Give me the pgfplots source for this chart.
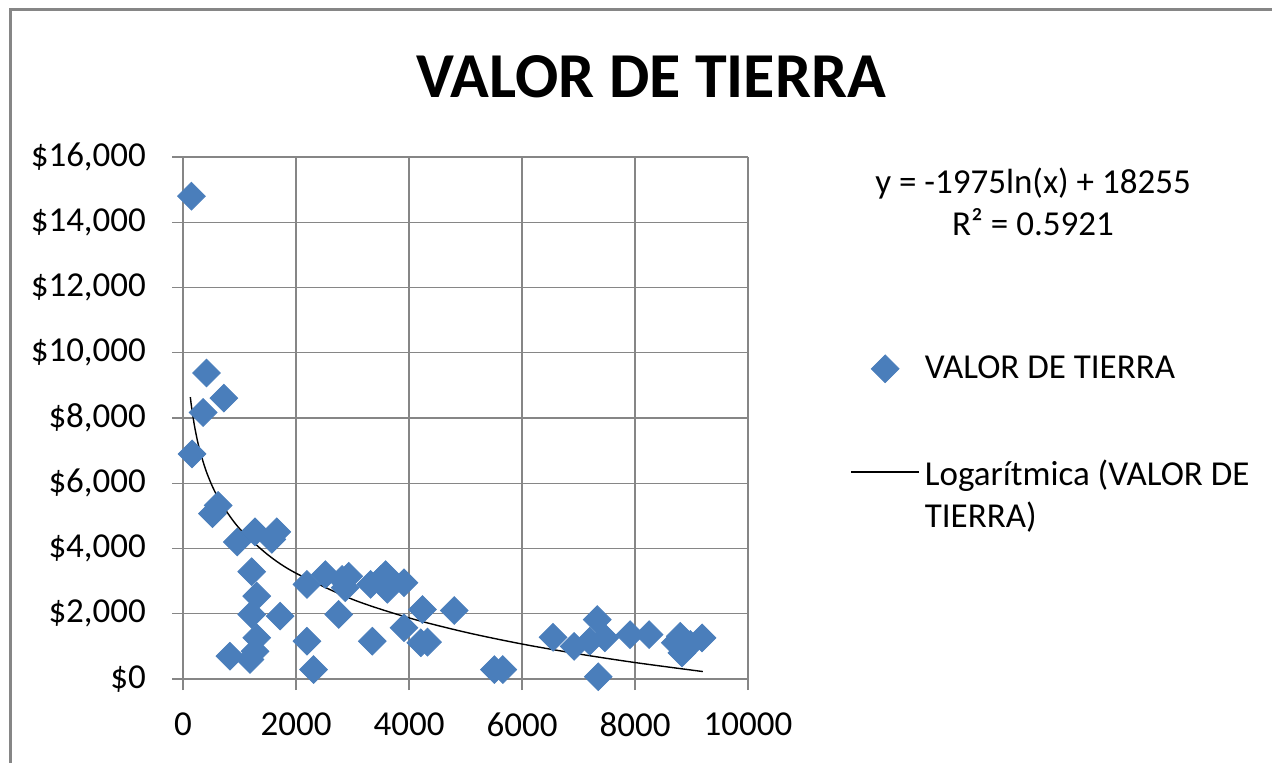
\documentclass[border=0pt]{standalone}
\usepackage{pgfplots}
\pgfplotsset{compat=1.18}
\usepackage{fontspec}
\setmainfont{Carlito}
\definecolor{xlblue}{HTML}{4A7EBB}
\definecolor{xlgrid}{HTML}{868686}
\begin{document}
\begin{tikzpicture}[x=0.5pt,y=0.5pt]
\path[use as bounding box] (0,0) rectangle (1272,-762);
\begin{scope}
\clip (0,0) rectangle (1272,-762);
\draw[xlgrid,line width=1.5pt] (10,-9.5) rectangle (1320,-820);
\end{scope}
\node[font=\fontsize{32}{36}\selectfont\bfseries,anchor=base] at (651,-97) {VALOR DE TIERRA};
\node[font=\fontsize{17.5}{21}\selectfont,align=center,anchor=base] at (1033,-235) {y = -1975ln(x) + 18255\\R² = 0.5921};
\begin{axis}[
  at={(91.5pt,-339.5pt)}, anchor=south west,
  scale only axis, width=282.5pt, height=261pt,
  xmin=0, xmax=10000, ymin=0, ymax=16000,
  xtick={0,2000,...,10000}, ytick={0,2000,...,16000},
  scaled ticks=false,
  xmajorgrids=true, ymajorgrids=true,
  grid style={xlgrid, line width=0.6pt},
  axis line style={xlgrid, line width=0.6pt},
  tick style={xlgrid, line width=0.6pt},
  tick align=outside, major tick length=5.5pt,
  xtick pos=left, ytick pos=left,
  axis x line*=bottom, axis y line*=left,
  /pgf/number format/assume math mode=true,
  tick label style={font=\fontsize{17.5}{20}\selectfont, black},
  xticklabel={\pgfmathprintnumber[fixed,precision=0,1000 sep={}]{\tick}},
  xticklabel style={yshift=-8pt},
  yticklabel={\$\pgfmathprintnumber[fixed,precision=0,1000 sep={,}]{\tick}},
  yticklabel style={xshift=-9.5pt},
  legend style={at={(1.17,0.635)}, anchor=north west, draw=none, fill=none,
    font=\fontsize{17.5}{21}\selectfont, row sep=33pt,
    nodes={inner xsep=2.5pt}},
  legend cell align=left,
  legend image code/.code={\draw[mark repeat=2,mark phase=2,#1] plot coordinates {(0pt,0pt) (17pt,0pt) (34pt,0pt)};},
]
\addplot[only marks, mark=square*, mark size=4.9pt, mark options={rotate=45, fill=xlblue, draw=xlblue}] coordinates {
(150,14800) (160,6900) (356,8170) (416,9380) (724,8610) (522,5070) (622,5320)
(960,4200) (1275,4510) (1572,4280) (1660,4510) (1216,3290) (1305,2540) (1216,1980)
(1719,1930) (1305,1265) (830,700) (1186,600) (1275,850) (2194,2900) (2520,3200)
(2816,3050) (2934,3150) (2870,2800) (2756,1980) (2194,1160) (2311,290) (3320,2900)
(3500,3050) (3586,3200) (3616,2750) (3911,2950) (3350,1160) (4238,2130) (3911,1570)
(4209,1110) (4327,1130) (4800,2100) (5511,290) (5660,290) (6550,1280) (6923,1000)
(7200,1160) (7332,1820) (7467,1260) (7350,70) (7912,1360) (8250,1360) (8712,1110)
(8800,1310) (8830,800) (8978,1060) (9186,1260)
};
\addlegendentry{VALOR DE TIERRA}
\addplot[black, line width=0.7pt, smooth, mark=none] coordinates {
(130,8642) (150,8359) (200,7791) (250,7350) (300,6990) (400,6422) (500,5981)
(600,5621) (700,5317) (1000,4612) (1500,3811) (2000,3243) (3000,2442) (4000,1874)
(5000,1434) (6000,1073) (7000,769) (8000,505) (9200,229)
};
\addlegendentry{\begin{tabular}[t]{@{}l@{}}Logarítmica (VALOR DE\\TIERRA)\end{tabular}}
\end{axis}
\end{tikzpicture}
\end{document}
